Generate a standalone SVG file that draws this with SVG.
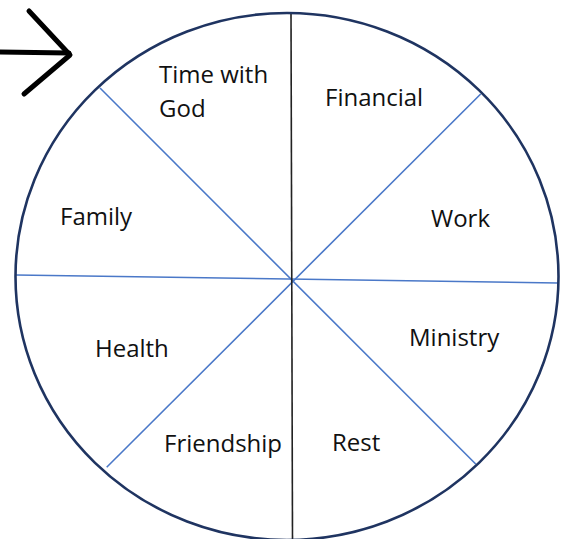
<svg xmlns="http://www.w3.org/2000/svg" width="561" height="539" viewBox="0 0 561 539">
<style>
.lbl{font-family:"Open Sans","Liberation Sans",sans-serif;font-size:24px;fill:#111}
.spoke{stroke:#4a78c8;stroke-width:1.6;fill:none}
</style>
<rect width="561" height="539" fill="#fff"/>
<g id="arrow" stroke="#000" stroke-width="5" fill="none" stroke-linecap="round" stroke-linejoin="round">
<path d="M0 52 L69 53"/>
<path d="M29 11 L70 55 L24 94"/>
</g>
<g id="connectors">
<line class="spoke" x1="100" y1="88" x2="475.7" y2="464"/>
<line class="spoke" x1="480.7" y1="94" x2="106.7" y2="467.3"/>
<line class="spoke" x1="16" y1="275" x2="558" y2="283"/>
<line x1="291" y1="12" x2="292.5" y2="539" stroke="#222" stroke-width="1.6"/>
</g>
<g id="wheel">
<ellipse cx="287" cy="276.5" rx="271.5" ry="263.5" fill="none" stroke="#1f3461" stroke-width="2.6"/>
</g>
<g id="time-with-god"><text class="lbl" x="159" y="83">Time with</text><text class="lbl" x="159" y="117">God</text></g>
<g id="financial"><text class="lbl" x="325" y="106">Financial</text></g>
<g id="work"><text class="lbl" x="431" y="227">Work</text></g>
<g id="family"><text class="lbl" x="60" y="225">Family</text></g>
<g id="health"><text class="lbl" x="95" y="357">Health</text></g>
<g id="ministry"><text class="lbl" x="409" y="346">Ministry</text></g>
<g id="friendship"><text class="lbl" x="164" y="452">Friendship</text></g>
<g id="rest"><text class="lbl" x="332" y="451">Rest</text></g>
</svg>
